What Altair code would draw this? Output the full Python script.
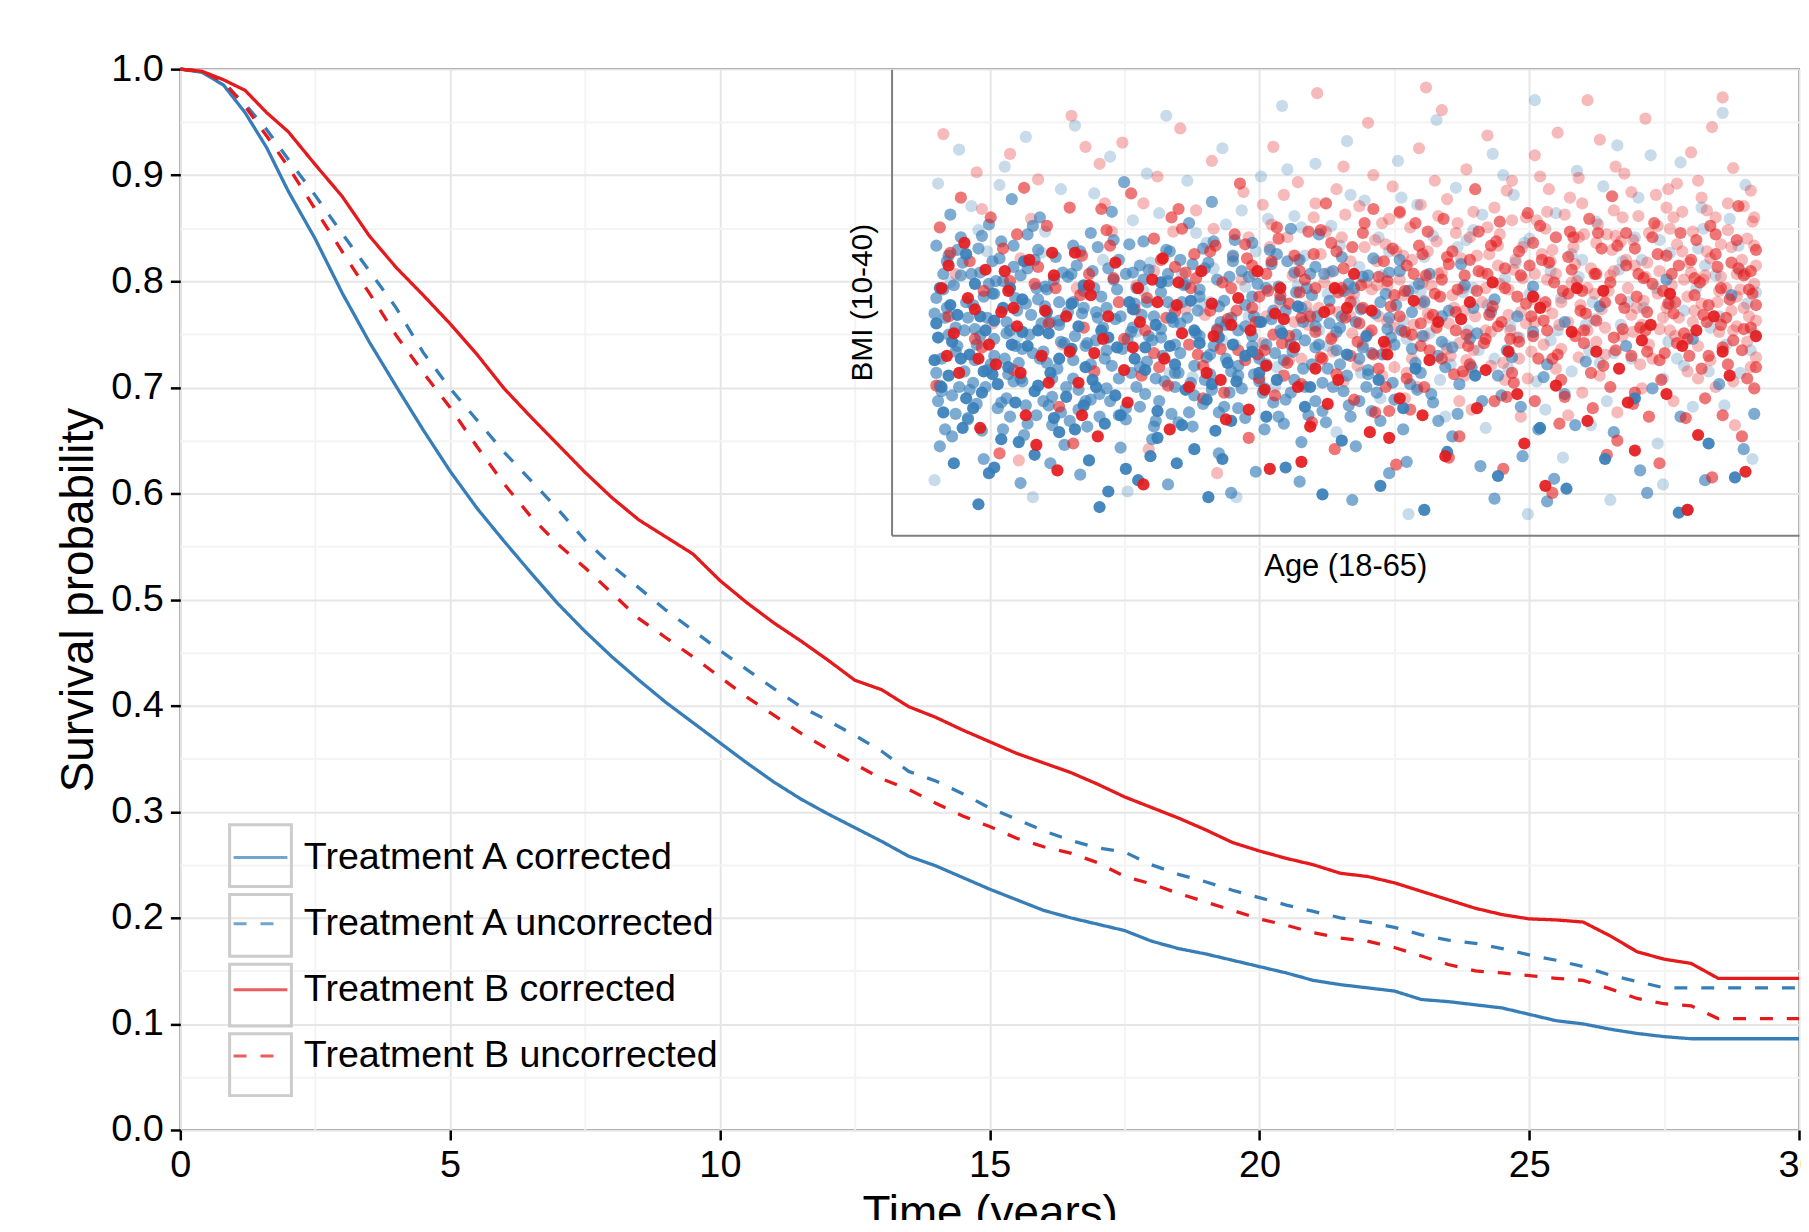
import altair as alt
import pandas as pd

# ---------------- survival curves ----------------
TIME = [0, 0.4, 0.8, 1.2, 1.6, 2.0, 2.5, 3.0, 3.5, 4.0, 4.5, 5.0, 5.5, 6.0, 6.5, 7.0, 7.5, 8.0,
        8.5, 9.0, 9.5, 10.0, 10.5, 11.0, 11.5, 12.0, 12.5, 13.0, 13.5, 14.0, 14.5, 15.0, 15.5,
        16.0, 16.5, 17.0, 17.5, 18.0, 18.5, 19.0, 19.5, 20.0, 20.5, 21.0, 21.5, 22.0, 22.5,
        23.0, 23.5, 24.0, 24.5, 25.0, 25.5, 26.0, 26.5, 27.0, 27.5, 28.0, 28.5, 29.0, 29.5, 30.0]

A_CORR = [1.0, .997, .985, .959, .926, .885, .840, .789, .743, .701, .660, .621, .586, .555, .525,
          .496, .470, .446, .424, .403, .384, .365, .346, .328, .312, .298, .285, .272, .258, .249,
          .238, .227, .217, .207, .200, .194, .188, .178, .171, .166, .160, .154, .148, .141, .137,
          .134, .131, .123, .121, .118, .115, .109, .103, .100, .095, .091, .088, .086, .086, .086,
          .086, .086]
A_UNCORR = [1.0, .998, .987, .967, .943, .915, .881, .845, .810, .775, .733, .699, .669, .639, .612,
            .585, .556, .532, .511, .490, .471, .452, .434, .416, .399, .386, .372, .357, .338, .329,
            .317, .3035, .293, .282, .273, .266, .262, .250, .241, .234, .226, .219, .212, .206, .200,
            .196, .191, .184, .179, .176, .171, .165, .160, .154, .146, .140, .134, .134, .134, .134,
            .134, .134]
B_CORR = [1.0, .998, .990, .980, .959, .941, .910, .880, .843, .813, .787, .760, .731, .699, .672,
          .646, .620, .596, .575, .559, .543, .518, .497, .478, .461, .443, .424, .415, .399, .389,
          .377, .366, .355, .346, .337, .326, .314, .304, .294, .283, .271, .263, .256, .250, .242,
          .239, .233, .225, .217, .209, .203, .199, .198, .196, .183, .168, .161, .157, .143, .143,
          .143, .143]
B_UNCORR = [1.0, .998, .988, .965, .937, .908, .868, .828, .789, .749, .714, .681, .644, .609, .578,
            .552, .530, .506, .482, .464, .446, .427, .408, .391, .374, .359, .345, .331, .321, .308,
            .296, .286, .275, .267, .261, .252, .239, .232, .223, .215, .207, .199, .193, .186, .181,
            .178, .172, .164, .156, .150, .148, .1455, .143, .141, .133, .124, .119, .117, .105, .105,
            .105, .105]

SERIES = ["Treatment A corrected", "Treatment A uncorrected",
          "Treatment B corrected", "Treatment B uncorrected"]
BOX_KEYS = ["k1", "k2", "k3", "k4"]

X_TICKS = [0, 2.5, 5, 7.5, 10, 12.5, 15, 17.5, 20, 22.5, 25, 27.5, 30]
Y_TICKS = [0.0, 0.05, 0.1, 0.15, 0.2, 0.25, 0.3, 0.35, 0.4, 0.45, 0.5, 0.55, 0.6, 0.65,
           0.7, 0.75, 0.8, 0.85, 0.9, 0.95, 1.0]

# ---------------- inset scatter (age, BMI) ----------------
BLUE_SOLID = [(18.3,22.5),(18.9,19.8),(19.4,24.1),(18.6,17.2),(20.1,21.3),(20.8,18.6),(21.5,23.7),
    (19.7,16.1),(22.3,20.4),(23.1,25.2),(21.9,15.3),(24.0,19.1),(24.6,22.8),(22.7,17.9),(20.4,26.3),
    (23.8,14.2),(25.2,21.0),(18.1,20.9),(19.2,13.6),(21.2,12.9),(24.9,16.8),(22.0,24.6),(19.9,28.4),
    (23.4,21.9),(20.6,10.7),(25.6,18.3),(26.3,23.3),(27.1,19.5),(27.8,16.4),(28.5,21.8),(29.2,25.0),
    (26.9,13.8),(30.1,20.2),(30.8,17.3),(31.6,23.9),(29.7,12.4),(32.4,18.8),(33.2,22.1),(28.0,11.6),
    (34.1,15.9),(34.8,20.7),(31.0,26.4),(32.9,14.6),(27.5,10.5),(35.3,19.4),(33.7,11.2),(26.6,17.7),
    (30.4,14.1),(36.2,21.5),(37.0,16.9),(38.1,13.3),(39.5,19.0),(40.2,11.4),(41.3,15.2),(42.7,22.6),
    (43.5,12.0),(44.8,17.5),(46.0,10.3),(47.3,14.4),(48.9,19.8),(50.2,12.7),(52.6,16.1),(54.1,11.8),
    (56.3,13.9),(58.0,18.2),(60.5,10.1),(62.2,15.0),(63.7,12.6),(38.8,24.7),(45.5,20.3),
    (18.4,26.0),(19.1,22.2),(19.9,18.2),(20.7,24.0),(21.4,19.9),(22.5,22.0),(23.2,27.9),(24.0,23.0),
    (24.7,20.0),(25.9,24.9),(26.7,20.4),(27.6,23.0),(28.4,18.4),(29.5,21.0),(30.7,23.4),(31.8,20.6),
    (32.7,25.1),(33.9,19.2),(35.1,22.0),(36.6,20.0),(37.9,22.8),(39.2,17.6),(41.6,21.3),(43.4,19.5),
    (18.5,19.0),(19.0,24.8),(19.6,21.0),(20.3,17.5),(21.0,23.0),(21.7,19.2),(22.4,26.0),(23.1,22.9),
    (23.8,18.7),(24.5,24.3),(25.2,15.8),(25.9,21.7),(26.6,26.2),(27.3,19.0),(28.0,22.5),(28.7,17.0),
    (29.4,24.5),(30.1,21.8),(30.8,15.4),(31.5,21.9),(32.2,16.3),(32.9,23.0),(33.6,18.1),(34.3,22.5),
    (35.0,16.6),(35.8,21.2),(36.7,23.6),(37.6,19.5),(18.2,23.5),(20.9,20.1),(22.9,15.1),(26.1,16.0),
    (29.0,13.2),(31.9,13.6),(34.5,13.9),(21.5,13.3)]

BLUE_MID = [(18.2,25.3),(18.5,21.0),(18.8,27.9),(19.1,18.4),(19.3,23.2),(19.6,29.6),(19.8,20.1),
    (20.0,16.7),(20.3,24.8),(20.5,22.0),(20.7,27.1),(21.0,19.0),(21.2,30.5),(21.4,25.6),(21.7,17.5),
    (18.4,14.8),(19.0,31.2),(20.9,13.9),(18.7,23.9),(21.5,21.2),(22.0,26.5),(22.2,18.2),(22.4,23.0),
    (22.6,29.0),(22.9,20.7),(23.2,15.6),(23.4,27.4),(23.6,24.1),(23.9,17.0),(24.1,31.0),(24.3,21.5),
    (24.5,25.9),(24.8,19.6),(25.0,28.2),(25.2,23.4),(25.5,14.9),(25.7,26.8),(22.5,32.3),(23.0,12.2),
    (24.7,13.6),(26.0,20.9),(26.2,27.6),(26.5,24.2),(26.8,16.2),(27.0,29.9),(27.3,22.3),(27.6,25.4),
    (27.9,18.9),(28.2,31.4),(28.4,23.8),(28.7,14.7),(29.0,27.0),(29.3,20.0),(29.5,24.9),(29.8,17.6),
    (30.0,29.3),(30.3,22.6),(26.4,12.8),(28.9,33.5),(30.5,15.3),(31.0,25.7),(31.2,19.4),(31.5,28.6),
    (31.8,22.0),(32.0,16.5),(32.3,26.2),(32.6,30.6),(32.9,20.5),(33.1,24.4),(33.4,17.8),(33.7,27.8),
    (34.0,21.9),(34.3,14.3),(34.6,25.1),(34.9,18.6),(35.2,29.4),(35.4,23.0),(31.4,12.1),(33.9,32.1),
    (35.0,11.5),(36.0,26.8),(36.3,19.9),(36.6,23.6),(36.9,16.0),(37.2,28.7),(37.5,21.4),(37.8,25.2),
    (38.1,18.1),(38.4,30.2),(38.7,22.7),(39.0,15.1),(39.3,26.0),(39.6,20.6),(39.9,24.0),(40.2,17.3),
    (36.4,13.0),(38.9,12.3),(40.0,29.8),(41.0,22.9),(41.4,18.7),(41.7,26.3),(42.1,14.8),(42.4,24.5),
    (42.8,20.2),(43.1,28.1),(43.5,16.6),(43.9,23.1),(44.2,19.3),(44.6,27.2),(45.0,13.7),(45.3,21.7),
    (41.9,11.0),(44.0,12.9),(46.0,25.0),(46.5,17.9),(47.0,22.2),(47.6,15.5),(48.1,27.7),(48.7,20.4),
    (49.2,13.4),(49.8,24.3),(50.4,18.4),(51.0,21.1),(51.6,14.1),(52.2,26.1),(52.8,19.7),(53.4,12.5),
    (54.0,23.6),(54.6,16.3),(55.2,20.8),(50.0,11.1),(53.0,10.9),(56.0,24.7),(56.8,15.8),(57.5,21.9),
    (58.3,13.1),(59.0,18.9),(59.8,26.6),(60.6,16.9),(61.3,22.4),(62.0,12.4),(62.8,19.2),(63.5,25.5),
    (64.2,14.6),(64.8,17.1),(58.7,11.5),(61.0,10.3),
    (18.3,18.0),(18.6,27.0),(19.1,15.5),(19.4,21.9),(19.9,25.0),(20.3,19.3),(20.6,28.8),(21.1,23.9),
    (21.6,26.5),(22.1,21.0),(22.4,16.9),(22.8,24.4),(23.1,19.4),(23.5,22.7),(23.9,26.0),(24.3,18.0),
    (24.7,23.6),(25.1,20.3),(25.4,27.1),(25.8,16.6),(26.1,22.6),(26.6,25.8),(27.0,18.1),(27.4,23.9),
    (27.8,21.0),(28.3,26.6),(28.6,19.6),(29.1,22.4),(29.6,26.0),(30.1,18.5),(30.6,24.0),(31.1,21.2),
    (31.6,17.1),(32.1,23.5),(32.7,19.3),(33.2,25.9),(33.8,21.3),(34.4,23.6),(35.0,20.1),(35.6,27.2),
    (36.2,22.6),(36.8,18.6),(37.4,24.4),(38.0,20.9),(38.6,27.1),(39.2,22.3),(39.8,18.0),(40.6,23.5),
    (41.2,20.6),(42.3,18.0),(43.0,21.4),(44.4,24.8),(45.6,18.8),(46.8,21.2),(47.9,17.1),(49.0,22.8),
    (50.2,19.8),(51.3,24.0),(52.5,16.0),
    (18.2,29.0),(18.7,16.0),(19.2,26.2),(19.5,19.0),(19.8,23.0),(20.2,27.0),(20.5,17.8),(20.9,25.4),
    (21.3,20.6),(21.8,28.1),(22.2,23.6),(22.6,19.4),(23.0,26.9),(23.3,17.7),(23.7,21.4),(24.0,28.7),
    (24.4,24.7),(24.8,16.3),(25.2,25.0),(25.6,19.0),(26.0,29.0),(26.3,18.8),(26.7,21.9),(27.1,27.2),
    (27.5,16.9),(27.9,24.6),(28.2,20.5),(28.6,28.0),(29.0,17.5),(29.4,23.2),(29.8,27.6),(30.2,20.8),
    (30.6,16.2),(31.0,23.1),(31.4,27.0),(31.8,19.0),(32.2,25.0),(32.6,17.2),(33.0,22.8),(33.4,28.8),
    (33.8,19.9),(34.2,26.6),(34.6,17.6),(35.0,23.9),(35.4,20.5),(35.8,16.8),(36.2,29.2),(36.6,21.0),
    (37.0,26.0),(37.4,17.9),(37.8,23.0),(38.2,27.9),(38.6,19.5),(39.0,24.6),(39.4,17.0),(39.8,21.8),
    (40.3,27.0),(40.8,19.0),(41.3,24.0),(41.8,16.9),(42.3,21.0),(42.8,26.9),(43.3,18.6),(43.8,25.6),
    (44.3,22.0),(44.8,16.0),(45.3,24.3),(45.8,20.0),(46.3,27.0),(46.8,16.6),(47.4,24.4),(48.0,19.2),
    (48.6,22.4),(49.3,18.0),(50.0,25.2),(50.7,21.6),(51.5,17.6),(52.2,22.9),(53.0,20.6),(54.0,18.5),
    (18.1,24.2),(18.5,18.7),(18.9,28.3),(19.3,21.5),(19.6,26.9),(20.0,16.8),(20.4,23.1),(20.8,29.7),
    (21.1,20.2),(21.5,25.6),(21.9,17.9),(22.2,22.8),(22.6,27.5),(23.0,19.6),(23.3,24.9),(23.7,30.4),
    (24.1,21.0),(24.4,26.1),(24.8,18.3),(25.2,23.7),(25.5,22.1),(25.9,27.0),(26.3,17.4),(26.6,24.6),
    (27.0,20.6),(27.4,28.9),(27.7,23.2),(28.1,18.0),(28.5,25.9),(28.8,21.7),(29.2,29.1),(29.6,19.0),
    (29.9,24.1),(30.3,27.3),(30.7,16.6),(31.0,22.5),(31.4,26.5),(31.8,20.0),(32.1,28.0),(32.5,23.9),
    (32.9,18.4),(33.2,25.4),(33.6,21.1),(34.0,29.3),(34.3,17.2),(34.7,23.4),(35.1,27.9),(35.4,19.8),
    (35.8,24.8),(36.2,21.9),(36.5,26.3),(36.9,18.9),(37.3,23.8),(37.6,28.4),(38.0,16.4),(38.4,22.0),
    (38.7,25.7),(39.1,20.3),(39.5,27.0),(39.8,23.3),(40.2,19.3),(40.6,25.1),(41.0,21.6),(41.3,28.2),
    (41.7,17.7),(42.1,23.6),(42.5,26.8),(42.8,19.9),(43.2,24.2),(43.6,21.3),(44.0,27.1),(44.3,18.1),
    (44.7,23.0),(45.1,25.8),(45.5,20.7),(45.9,22.6),(46.4,18.5),(47.0,24.0),(47.6,21.8),(48.3,26.2),
    (18.2,20.0),(18.6,25.9),(18.9,22.7),(19.3,17.1),(19.7,27.8),(20.0,23.9),(20.4,20.9),(20.8,15.9),
    (21.2,26.3),(21.5,22.4),(21.9,29.3),(22.3,19.9),(22.7,25.3),(23.1,21.7),(23.4,16.4),(23.8,28.0),
    (24.2,23.5),(24.5,20.7),(24.9,26.6),(25.3,17.2),(25.7,24.3),(26.0,19.6),(26.4,28.6),(26.8,22.1),
    (27.2,26.0),(27.5,18.5),(27.9,21.6),(28.3,29.4),(28.7,24.0),(29.0,16.7),(29.4,27.1),(29.8,20.4),
    (30.2,25.0),(30.5,22.3),(30.9,18.0),(31.3,28.7),(31.7,23.6),(32.0,20.0),(32.4,26.3),(32.8,16.2),
    (33.2,22.6),(33.5,27.4),(33.9,18.8),(34.3,24.7),(34.7,21.0),(35.1,28.3),(35.4,17.5),(35.8,23.3),
    (36.2,25.4),(36.6,19.4),(37.0,22.0),(37.3,27.7),(37.7,16.9),(38.1,24.4),(38.5,21.5),(38.9,28.0),
    (39.2,19.0),(39.6,25.5),(40.0,22.0),(40.4,16.5),(40.8,27.2),(41.2,23.2),(41.6,19.8),(42.0,26.0),
    (42.5,21.8),(43.0,17.3),(43.5,25.0),(44.1,22.5),(44.6,28.0),(45.2,19.2),(18.4,19.1),(18.8,24.6),
    (19.4,28.7),(20.1,18.8),(20.7,22.6),(21.4,27.9),(22.0,16.0),(22.7,21.9),(23.4,29.8),(24.0,25.2),
    (24.6,17.7),(25.3,22.2),(26.0,25.0),(26.7,18.0),(27.3,24.3),(28.0,27.4),(28.6,17.0),(29.3,22.9),
    (30.0,26.6),(30.7,19.6),(31.4,25.0),(32.1,21.4),(32.8,27.7),(33.5,19.5),(34.2,23.1),(34.9,26.8),
    (35.6,18.9),(36.3,24.0),(37.0,20.6),(37.7,26.1),(38.4,18.6),(39.1,23.6),(39.8,27.5),(40.5,20.3),
    (41.4,25.8),(42.7,19.0),(44.0,23.9),(45.7,26.3),(47.2,20.4),(48.8,24.6)]

BLUE_LIGHT = [(18.3,33.4),(19.5,35.8),(20.2,31.8),(21.1,28.6),(22.1,34.6),(23.3,36.7),(24.4,30.0),
    (25.3,33.0),(26.1,37.5),(27.2,32.7),(28.1,35.3),(29.4,30.8),(30.2,34.1),(31.3,38.2),(32.5,33.6),
    (33.6,29.2),(34.5,35.9),(35.6,31.5),(36.7,33.9),(37.9,38.9),(38.6,31.1),(39.8,34.8),(40.7,30.4),
    (41.6,36.4),(42.6,32.2),(43.4,29.6),(44.5,35.0),(45.6,31.9),(46.7,37.9),(47.8,33.1),(48.8,30.1),
    (49.9,35.5),(51.1,32.6),(52.3,39.3),(53.5,31.3),(54.7,34.3),(55.8,30.7),(57.0,36.1),(58.2,32.4),
    (59.4,29.4),(60.6,34.9),(61.8,31.7),(63.0,38.4),(64.3,33.3),(42.3,27.5),(43.8,21.3),(45.8,25.8),
    (46.9,19.5),(47.9,28.9),(48.5,23.0),(49.5,16.1),(50.6,26.7),(51.4,22.5),(52.0,29.5),(52.9,17.4),
    (53.8,25.3),(54.4,20.1),(55.0,28.0),(55.7,23.8),(56.4,18.0),(57.1,27.3),(57.8,21.0),(58.5,24.6),
    (59.3,15.0),(60.0,28.5),(60.8,20.5),(61.5,26.0),(62.3,23.2),(63.1,17.7),(63.9,29.0),(64.6,21.6),
    (64.9,25.7),(59.6,12.1),(56.6,11.0),(51.9,10.0),(45.1,10.0),(64.7,13.9),(18.1,12.4),(19.0,26.4),
    (20.6,30.1),(22.8,22.5),(24.2,28.5),(25.9,21.7),(27.7,28.0),(29.6,22.9),(30.9,31.3),(32.2,27.0),
    (33.3,24.9),(34.7,30.5),(35.8,26.1),(37.1,30.9),(39.2,28.3),(40.5,25.6),(23.7,11.2),(29.1,11.6),
    (35.3,11.2),(21.8,33.3),(44.0,28.6),(46.3,22.8),(48.2,25.7),(50.9,23.3),(53.2,27.2),(55.4,21.6),
    (57.6,25.0),(59.9,22.2),(62.6,26.9),(64.0,20.0),(41.8,32.6),(49.3,31.2),(56.2,33.2),(61.9,30.2),
    (30.0,25.8),(31.5,20.0),(33.0,29.9),(34.5,22.3),(36.0,24.0),(37.5,19.0),(39.0,30.3),(40.5,21.9),
    (42.0,25.0),(43.5,18.2),(45.0,22.4),(46.5,29.7),(47.5,20.6),(48.8,26.0),(50.0,21.0),(51.2,27.8),
    (52.4,19.4),(53.6,23.0),(54.8,26.8),(56.0,20.7),(57.2,23.4),(58.4,28.0),(59.6,19.6),(60.8,24.4),
    (62.0,27.6),(63.2,22.0),(64.4,24.9),(44.7,32.4),(50.5,34.0),(58.9,35.4),(38.2,34.4),(55.5,16.3),
    (61.3,17.6),(47.2,16.9),(41.0,15.8),(53.9,14.0),
    (30.4,27.8),(31.7,24.6),(32.8,19.7),(34.0,27.4),(35.2,22.0),(36.4,28.6),(37.6,20.4),(38.8,26.2),
    (40.0,23.0),(41.2,29.0),(42.4,20.0),(43.6,26.9),(44.8,23.7),(46.0,28.2),(47.2,22.0),(48.4,29.4),
    (49.6,24.8),(50.8,20.3),(52.0,25.6),(53.2,22.3),(54.4,28.4),(55.6,25.0),(56.8,21.4),(58.0,29.6),
    (59.2,26.0),(60.4,21.0),(61.6,28.8),(62.8,24.0),(64.0,27.2),(64.8,22.8),(45.4,26.0),(51.7,29.2),
    (57.3,27.9),(63.4,30.9),(39.4,24.2),(33.8,25.0),(49.1,21.6),(55.2,23.4),(60.0,24.9),(62.2,20.1)]

RED_SOLID = [(18.5,26.0),(19.2,22.8),(19.8,29.2),(20.4,24.5),(21.0,27.3),(21.6,20.6),(22.3,25.8),
    (22.8,23.3),(23.5,28.0),(24.2,21.2),(24.9,26.9),(25.6,24.0),(26.3,19.3),(27.0,25.5),(27.7,22.4),
    (28.4,27.8),(29.1,17.9),(29.8,23.6),(30.5,26.6),(31.2,21.0),(31.9,24.8),(32.6,19.0),(33.3,27.2),
    (34.0,22.6),(34.7,16.7),(35.4,25.3),(23.9,14.9),(27.4,15.5),(30.0,12.1),(20.7,16.1),(25.1,13.1),
    (36.1,23.0),(36.9,18.8),(37.2,13.2),(37.8,26.0),(38.6,21.8),(39.0,13.7),(39.5,16.2),(40.3,24.3),
    (41.1,19.5),(42.0,27.0),(42.9,15.8),(43.7,22.2),(44.6,18.2),(45.4,25.1),(46.3,20.9),(47.2,14.1),
    (48.1,23.8),(49.0,17.5),(49.9,26.4),(50.8,21.5),(51.7,15.0),(52.6,24.6),(52.9,12.0),(53.5,19.1),
    (54.4,22.9),(55.3,16.6),(56.2,25.8),(57.1,20.3),(58.0,14.5),(58.9,23.4),(59.8,18.5),(60.7,21.9),
    (61.0,10.3),(61.6,15.6),(62.5,24.0),(63.4,19.8),(64.3,13.0),(64.9,22.6),
    (18.8,21.2),(20.0,25.3),(21.2,22.0),(22.1,27.2),(23.0,20.0),(24.4,24.4),(25.8,21.5),(26.9,26.2),
    (28.0,24.0),(29.4,21.8),(30.8,25.0),(32.2,22.8),(33.6,20.0),(35.0,23.4),(36.5,27.2),(38.0,23.8),
    (39.8,20.3),(41.6,24.6),(23.3,17.0),(31.5,16.0),(36.0,17.4),(44.0,15.4),
    (19.5,20.0),(21.9,24.3),(24.6,19.3),(26.1,28.5),(28.9,20.2),(31.1,28.1),(33.9,24.9),(37.0,20.5),
    (40.9,26.0),(43.9,21.3),(46.8,23.6),(49.5,20.2),(52.2,25.4),(55.8,21.5),(58.4,22.3),(61.5,23.0),
    (18.9,27.6),(20.6,21.0),(22.6,24.6),(24.8,28.5),(27.2,21.4),(29.7,26.0),(32.0,26.4),(34.4,19.5),
    (37.5,24.2),(40.5,17.8),(43.0,24.4),(45.9,17.0),(48.6,25.0),(51.3,18.5),(54.7,26.0),(57.6,17.9),
    (60.0,25.6),(63.0,21.5),(26.5,17.0),(38.8,19.0)]

RED_MID = [(18.4,30.3),(18.9,24.0),(19.6,32.4),(20.1,27.9),(20.8,21.8),(21.3,31.0),(22.0,28.8),
    (22.6,20.2),(23.2,33.1),(23.8,26.3),(24.5,30.4),(25.2,17.6),(25.8,31.7),(26.5,28.3),(27.2,20.1),
    (27.9,30.1),(28.6,25.0),(29.3,32.7),(29.9,19.8),(18.2,19.1),(21.8,14.3),(26.0,15.0),(30.6,29.5),
    (31.3,23.9),(32.0,31.6),(32.7,26.0),(33.4,18.2),(34.1,29.0),(34.8,23.8),(35.5,33.4),(36.2,27.6),
    (36.9,21.6),(37.6,30.3),(38.3,24.9),(39.0,19.2),(39.7,28.4),(40.4,32.0),(41.1,25.7),(41.8,21.2),
    (42.5,29.9),(43.2,17.2),(43.9,26.5),(44.6,31.4),(45.3,22.7),(36.0,15.4),(40.9,14.6),(44.4,13.5),
    (45.9,28.4),(46.5,24.1),(47.1,30.9),(47.7,19.9),(48.3,26.9),(48.9,33.0),(49.5,22.4),(50.1,29.3),
    (50.7,18.3),(51.3,25.4),(51.9,31.3),(52.5,21.0),(53.1,27.8),(53.7,16.4),(54.3,30.0),(54.9,24.4),
    (55.5,20.0),(56.1,28.8),(56.7,32.5),(57.3,23.1),(57.9,17.8),(58.5,26.7),(59.1,30.6),(59.7,21.4),
    (60.3,25.0),(60.9,16.8),(61.5,29.4),(62.1,23.6),(62.7,27.5),(63.3,20.6),(63.9,31.8),(64.5,25.9),
    (64.8,18.9),(47.4,14.0),(50.5,13.2),(53.3,11.5),(56.4,14.2),(59.4,13.6),(62.4,12.6),(64.1,15.5),
    (36.6,25.4),(37.9,22.1),(39.2,26.6),(40.1,21.1),(41.0,28.6),(42.3,23.5),(43.4,20.3),(44.1,24.7),
    (45.0,27.6),(45.8,21.9),(46.9,25.4),(47.8,23.0),(48.6,20.6),(49.6,27.0),(50.4,23.6),(51.1,19.3),
    (52.0,27.6),(52.8,23.7),(53.5,29.6),(54.2,25.6),(55.1,22.1),(55.8,27.0),(56.6,19.0),(57.2,25.2),
    (58.0,28.8),(58.7,24.3),(59.5,19.5),(60.1,27.0),(60.8,22.8),(61.4,25.5),(62.2,21.2),(62.9,26.0),
    (63.6,22.3),(64.2,26.9),(64.9,20.4),(31.8,27.5),(33.1,21.3),(34.5,26.4),(35.8,20.9),(28.9,22.4),
    (26.9,27.0),(24.6,23.5),(22.4,26.5),(20.4,22.4),(19.0,28.5),
    (25.0,26.0),(26.6,23.2),(28.1,29.0),(29.5,24.5),(30.9,20.4),(32.4,27.1),(33.8,24.4),(35.2,29.8),
    (36.4,23.6),(37.3,27.9),(38.0,19.8),(38.9,25.7),(39.8,22.9),(40.7,29.2),(41.5,23.9),(42.4,26.2),
    (43.1,31.6),(43.8,19.0),(44.9,25.8),(45.7,29.0),(46.3,21.6),(47.0,26.6),(47.6,28.6),(48.4,22.7),
    (49.1,30.0),(49.9,24.7),(50.6,27.4),(51.4,22.2),(52.2,29.2),(52.9,25.0),(53.6,21.3),(54.4,27.3),
    (55.2,24.2),(55.9,29.9),(56.8,22.5),(57.5,27.6),(58.3,23.2),(59.0,29.6),(59.6,25.8),(60.4,22.1),
    (61.2,28.0),(61.9,24.1),(62.6,29.8),(63.2,23.9),(63.9,27.4),(64.6,23.2),(64.9,28.7),(45.2,17.4),
    (52.3,18.0),(58.8,16.9),(63.0,17.0),(39.6,16.5),
    (30.2,25.3),(30.6,21.4),(31.0,28.0),(31.4,19.1),(31.8,24.3),(32.2,30.2),(32.6,22.0),(33.0,26.7),
    (33.4,20.5),(33.8,28.6),(34.2,23.0),(34.6,18.6),(35.0,26.0),(35.4,21.6),(35.8,29.1),(36.2,24.6),
    (36.6,19.6),(37.0,27.0),(37.4,22.7),(37.8,25.5),(38.2,20.7),(38.6,28.3),(39.0,23.9),(39.4,30.0),
    (39.8,26.0),(40.2,21.0),(40.6,24.5),(41.0,19.9),(41.4,27.4),(41.8,25.0),(42.2,22.2),(42.6,30.6),
    (43.0,23.0),(43.4,26.8),(43.8,21.9),(44.2,28.8),(44.6,24.0),(45.0,19.6),(45.4,27.0),(45.8,23.5),
    (46.2,30.0),(46.6,25.6),(47.0,21.0),(47.4,27.7),(47.8,24.3),(48.2,20.1),(48.6,28.0),(49.0,25.8),
    (49.4,22.1),(49.8,29.0),(50.2,23.3),(50.6,26.0),(51.0,20.0),(51.4,28.6),(51.8,24.9),(52.2,22.6),
    (52.6,30.4),(53.0,23.0),(53.4,26.4),(53.8,19.5),(54.2,28.2),(54.6,22.6),(55.0,25.8),(55.4,30.9),
    (55.8,23.7),(56.2,20.5),(56.6,26.4),(57.0,29.0),(57.4,24.6),(57.8,21.2),(58.2,27.0),(58.6,23.0),
    (59.0,26.3),(59.4,20.9),(59.8,28.3),(60.2,24.2),(60.6,29.9),(61.0,22.4),(61.4,26.7),(61.8,20.3),
    (62.2,24.8),(62.6,28.4),(63.0,21.8),(63.4,25.2),(63.8,29.4),(64.2,23.1),(64.6,27.2),(64.9,24.8),
    (44.0,17.3),(55.6,17.5),
    (35.3,24.4),(35.9,28.1),(36.5,21.3),(37.1,25.8),(37.7,29.5),(38.3,22.6),(38.9,27.2),(39.5,24.0),
    (40.1,30.1),(40.7,22.4),(41.3,26.0),(41.9,28.9),(42.5,24.6),(43.1,21.3),(43.7,27.9),(44.3,25.5),
    (44.9,22.9),(45.5,30.6),(46.1,26.9),(46.7,23.2),(47.3,28.2),(47.9,25.9),(48.5,21.9),(49.1,27.2),
    (49.7,24.1),(50.3,30.7),(50.9,22.4),(51.5,26.9),(52.1,24.0),(52.7,28.0),(53.3,21.0),(53.9,25.8),
    (54.5,29.6),(55.1,23.0),(55.7,27.0),(56.3,25.0),(56.9,21.6),(57.5,29.9),(58.1,25.4),(58.7,21.5),
    (59.3,28.4),(59.9,24.9),(60.5,27.6),(61.1,21.2),(61.7,26.4),(62.3,30.4),(62.9,23.4),(63.5,27.8),
    (64.1,21.6),(64.7,25.6),(37.5,18.4),(42.0,18.1),(46.0,19.0),(50.0,18.0),(54.0,18.3),(58.0,18.6),
    (62.0,18.2),(64.4,19.6),(48.0,15.5),(57.0,15.2),(24.0,27.5),(26.4,25.5),(28.3,26.7),(30.1,23.0),
    (32.9,28.4),(34.4,21.7),(20.9,25.8),(22.8,29.8),(27.6,31.6),(31.6,31.0)]

RED_LIGHT = [(18.6,36.9),(20.5,34.2),(22.4,35.5),(24.0,33.7),(25.9,38.2),(27.5,34.8),(28.8,36.3),
    (30.8,33.9),(32.1,37.3),(33.9,35.0),(35.7,32.8),(37.4,36.0),(38.8,33.5),(39.9,39.8),(41.4,34.6),
    (42.8,37.7),(44.2,33.2),(45.7,35.9),(47.0,38.6),(48.4,34.4),(49.6,36.8),(51.0,33.6),(52.3,35.4),
    (53.6,37.0),(54.8,33.8),(56.0,36.5),(57.4,34.1),(58.6,38.0),(59.9,33.0),(61.2,35.6),(62.4,37.4),
    (63.6,34.5),(64.6,32.9),(46.1,40.2),(55.3,39.3),(63.0,39.5),(38.2,29.6),(39.4,23.4),(40.6,27.1),
    (41.5,31.2),(42.2,20.5),(43.0,25.9),(43.6,30.6),(44.8,28.3),(45.6,19.0),(46.4,26.2),(47.3,32.3),
    (48.0,22.1),(48.6,29.6),(49.3,25.0),(50.0,31.7),(50.5,20.7),(51.2,28.0),(51.8,23.5),(52.4,30.8),
    (53.0,26.6),(53.8,21.7),(54.5,28.9),(55.0,32.0),(55.7,25.6),(56.3,21.3),(56.9,29.7),(57.6,26.0),
    (58.2,31.1),(58.8,22.0),(59.4,27.2),(60.0,30.2),(60.5,23.9),(61.1,27.8),(61.8,32.4),(62.3,20.9),
    (62.9,29.1),(63.5,24.4),(64.1,28.0),(64.7,30.7),(64.9,23.7),(57.0,17.2),(60.2,18.0),(63.7,16.3),
    (54.2,17.0),(51.5,16.9),(48.7,17.4),(19.3,27.0),(21.4,23.5),(23.6,30.9),(25.4,22.0),(27.8,32.0),
    (29.6,26.2),(31.7,30.0),(33.5,24.1),(35.1,28.2),(36.8,31.9),(26.7,36.0),(30.3,14.6),(34.2,12.9),
    (22.9,13.8),(40.0,24.6),(41.9,22.8),(43.3,27.9),(44.3,23.2),(45.2,30.3),(46.0,22.6),(47.0,27.1),
    (47.7,24.6),(48.3,19.8),(49.0,28.3),(49.8,22.9),(50.3,26.3),(51.0,30.8),(51.5,24.3),(52.1,21.5),
    (52.7,28.4),(53.3,24.2),(54.0,31.2),(54.7,26.5),(55.3,23.0),(55.9,30.5),(56.6,26.9),(57.3,22.6),
    (57.9,29.4),(58.5,25.1),(59.2,32.6),(59.8,24.6),(60.4,29.1),(61.0,25.4),(61.6,21.9),(62.1,28.6),
    (62.7,25.0),(63.3,30.1),(63.8,27.0),(64.4,22.2),(64.8,26.3),
    (38.5,26.9),(39.7,31.0),(40.8,22.6),(41.7,25.6),(42.6,28.9),(43.4,24.0),(44.6,26.6),(45.4,23.4),
    (46.2,28.6),(46.8,31.1),(47.5,21.2),(48.2,26.0),(48.9,24.0),(49.6,30.3),(50.2,27.6),(50.8,24.1),
    (51.6,26.7),(52.3,23.6),(52.9,30.2),(53.5,27.0),(54.2,23.6),(54.8,29.6),(55.5,27.4),(56.1,24.5),
    (56.8,31.5),(57.5,28.0),(58.1,24.6),(58.7,27.8),(59.4,23.1),(60.1,26.2),(60.7,31.4),(61.3,23.6),
    (62.0,26.9),(62.6,31.0),(63.2,26.0),(63.8,23.3),(64.4,29.5),(64.9,27.6),(41.0,33.0),(44.0,30.9),
    (50.7,32.9),(53.1,33.0),(57.8,32.8),(61.6,33.6),(64.2,31.8),(36.0,29.6),(37.0,24.0),(33.0,31.5),
    (30.0,32.0),(45.8,24.9),
    (36.3,27.0),(36.8,22.1),(37.3,30.5),(37.8,25.0),(38.3,20.9),(38.8,28.0),(39.3,24.7),(39.8,32.0),
    (40.3,26.4),(40.8,21.5),(41.3,29.6),(41.8,24.0),(42.3,31.8),(42.8,22.8),(43.3,26.2),(43.8,29.1),
    (44.3,20.4),(44.8,25.5),(45.3,28.0),(45.8,31.9),(46.3,23.9),(46.8,27.0),(47.3,21.7),(47.8,29.9),
    (48.3,24.4),(48.8,31.4),(49.3,27.1),(49.8,20.5),(50.3,29.8),(50.8,25.9),(51.3,22.5),(51.8,31.0),
    (52.3,27.0),(52.8,22.0),(53.3,28.7),(53.8,25.0),(54.3,32.4),(54.8,21.1),(55.3,26.0),(55.8,29.2),
    (56.3,23.2),(56.8,27.2),(57.3,31.0),(57.8,24.1),(58.3,20.6),(58.8,29.9),(59.3,25.6),(59.8,31.7),
    (60.3,22.6),(60.8,26.6),(61.3,30.0),(61.8,24.9),(62.3,28.1),(62.8,22.9),(63.3,32.0),(63.8,25.4),
    (64.3,27.0),(64.8,29.0),(64.9,21.1),(64.5,24.0),(40.1,28.4),(42.0,25.6),(43.9,23.6),(45.9,26.4),
    (47.6,25.5),(49.5,23.0),(51.1,27.3),(52.9,24.7),(54.6,27.7),(56.4,29.8),(58.0,27.6),(59.6,23.9),
    (61.2,27.1),(62.9,26.8),(64.0,25.9),(39.0,21.0),(41.4,19.4),(44.9,18.2),(48.0,18.0),(51.9,19.6),
    (55.0,18.6),(58.4,18.9),(61.6,19.6),(63.6,19.4),(46.6,33.6),(52.6,33.9),(56.9,34.6),(60.4,33.4),
    (43.1,34.0),(38.0,32.6),
    (40.4,30.0),(41.1,24.3),(41.8,27.9),(42.5,22.0),(43.2,29.4),(43.9,26.2),(44.6,31.3),(45.3,21.0),
    (46.0,25.1),(46.7,29.3),(47.4,23.5),(48.1,28.1),(48.8,21.6),(49.5,26.0),(50.2,29.0),(50.9,23.0),
    (51.6,28.9),(52.3,25.2),(53.0,31.4),(53.7,23.4),(54.4,26.4),(55.1,29.8),(55.8,22.2),(56.5,25.8),
    (57.2,29.3),(57.9,22.9),(58.6,26.8),(59.3,30.4),(60.0,23.0),(60.7,28.6),(61.4,24.4),(62.1,31.5),
    (62.8,25.8),(63.5,28.9),(64.2,24.6),(64.8,31.0),(40.9,26.0),(42.7,26.4),(44.4,28.6),(46.2,24.2),
    (47.9,30.6),(49.7,28.4),(51.4,21.0),(53.2,27.9),(54.9,24.8),(56.7,28.7),(58.4,23.4),(60.2,31.0),
    (61.9,26.6),(63.6,23.0),(45.0,20.0),(50.6,19.5),(56.0,19.8),(61.0,20.1),(64.6,20.4),(53.5,20.3),
    (59.0,21.0),(43.6,19.8),(48.4,20.9),(62.6,19.0),(30.6,27.2),(32.4,24.5),(34.0,30.2),(35.6,26.6),
    (37.2,28.9),(38.6,23.6),(28.2,30.0),(26.2,26.0),(23.0,28.1),(20.8,31.6)]

BLUE = "#377EB8"
RED = "#E41A1C"
FRAME = "#7F7F7F"
FONT = "Liberation Sans"

# ---------------- tables ----------------
rows = []
for name, vals in zip(SERIES, [A_CORR, A_UNCORR, B_CORR, B_UNCORR]):
    for t, v in zip(TIME, vals):
        rows.append({"time": t, "surv": v, "series": name})
curves = pd.DataFrame(rows)

pts = []
for col, tier, alpha in [(BLUE, BLUE_LIGHT, 0.28), (RED, RED_LIGHT, 0.3),
                         (BLUE, BLUE_MID, 0.65), (RED, RED_MID, 0.6),
                         (BLUE, BLUE_SOLID, 0.92), (RED, RED_SOLID, 0.92)]:
    for a, b in tier:
        pts.append({"age": a, "bmi": b, "col": col, "alpha": alpha})
scatter_df = pd.DataFrame(pts)

W, H = 1625, 1065
INSET_X0 = 714
INSET_H = 468

x_major = "datum.value % 5 === 0"
y_major = "round(datum.value * 100) % 10 === 0"

line_legend = alt.Legend(
    title=None, orient="none", legendX=52, legendY=763, direction="vertical",
    symbolType="stroke", symbolSize=2916, symbolStrokeWidth=3,
    labelFontSize=37.7, labelFont=FONT, labelColor="black", labelLimit=800,
    labelOffset=15, rowPadding=18.4, padding=0)

lines = alt.Chart(curves).mark_line(strokeWidth=3.3).encode(
    x=alt.X("time:Q",
            scale=alt.Scale(domain=[0, 30], nice=False, zero=False),
            axis=alt.Axis(orient="bottom", values=X_TICKS, title="Time (years)",
                          labelExpr=f"{x_major} ? format(datum.value, 'd') : ''",
                          gridColor={"condition": {"test": x_major, "value": "#E6E6E6"}, "value": "#F4F4F4"},
                          tickOpacity={"condition": {"test": x_major, "value": 1}, "value": 0},
                          labelOverlap=False, labelFlush=False, titlePadding=7)),
    y=alt.Y("surv:Q",
            scale=alt.Scale(domain=[0, 1], nice=False, zero=False),
            axis=alt.Axis(orient="left", values=Y_TICKS, title="Survival probability",
                          labelExpr=f"{y_major} ? format(datum.value, '.1f') : ''",
                          gridColor={"condition": {"test": y_major, "value": "#E6E6E6"}, "value": "#F4F4F4"},
                          tickOpacity={"condition": {"test": y_major, "value": 1}, "value": 0},
                          labelOverlap=False, labelFlush=False, titlePadding=8)),
    color=alt.Color("series:N", scale=alt.Scale(domain=SERIES, range=[BLUE, BLUE, RED, RED]),
                    legend=line_legend),
    strokeDash=alt.StrokeDash("series:N",
                              scale=alt.Scale(domain=SERIES, range=[[1, 0], [13, 14], [1, 0], [13, 14]]),
                              legend=line_legend),
)

scatter = alt.Chart(scatter_df).mark_circle(strokeWidth=0).encode(
    x=alt.X("age:Q",
            scale=alt.Scale(domain=[15.65, 67.35], range=[INSET_X0, W], nice=False, zero=False),
            axis=alt.Axis(orient="bottom", offset=-(H - INSET_H), labels=False, ticks=False, grid=False,
                          domain=True, domainColor=FRAME, domainWidth=2, title="Age (18-65)",
                          titleFontSize=31, titlePadding=16, titleFontWeight="normal",
                          titleFont=FONT, titleColor="black")),
    y=alt.Y("bmi:Q",
            scale=alt.Scale(domain=[8.5, 41.5], range=[INSET_H, 0], nice=False, zero=False),
            axis=alt.Axis(orient="left", offset=-INSET_X0, labels=False, ticks=False, grid=False,
                          domain=True, domainColor=FRAME, domainWidth=2, title="BMI (10-40)",
                          titleFontSize=30, titlePadding=14, titleFontWeight="normal",
                          titleFont=FONT, titleColor="black")),
    color=alt.Color("col:N", scale=None),
    opacity=alt.Opacity("alpha:Q", scale=None),
    size=alt.value(150),
)

boxes = alt.Chart(curves).transform_filter("false").mark_point(
    filled=False, opacity=1, strokeWidth=3, color="#CCCCCC").encode(
    shape=alt.Shape("key:N", scale=alt.Scale(domain=BOX_KEYS, range=["square"] * 4),
                    legend=alt.Legend(title=None, orient="none", legendX=48, legendY=757,
                                      direction="vertical", symbolType="square", symbolSize=3844,
                                      symbolStrokeWidth=3, symbolStrokeColor="#CCCCCC",
                                      symbolFillColor="transparent", symbolOpacity=1,
                                      labelExpr="''", labelFontSize=36.5, rowPadding=-10, padding=0))
)

chart = alt.layer(lines, scatter, boxes).resolve_scale(
    x="independent", y="independent"
).properties(
    width=W, height=H,
    autosize=alt.AutoSizeParams(type="none"),
    padding={"left": 173, "top": 59, "right": 2, "bottom": 88},
    background="white",
).configure_view(
    stroke=FRAME, strokeWidth=2
).configure_axis(
    labelFont=FONT, labelFontSize=38, labelColor="black", labelPadding=7,
    titleFont=FONT, titleFontSize=46, titleFontWeight="normal", titleColor="black",
    tickSize=10, tickColor="black", tickWidth=2.5, domain=False, gridWidth=2,
).configure_legend(
    labelFont=FONT
)

chart.save("out.html", embed_options={"renderer": "svg", "actions": False})
